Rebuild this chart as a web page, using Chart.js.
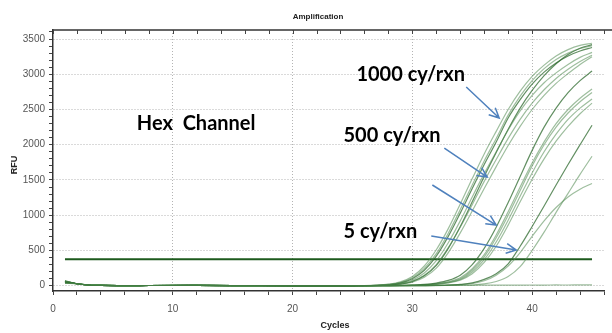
<!DOCTYPE html>
<html>
<head>
<meta charset="utf-8">
<script src="https://cdn.jsdelivr.net/npm/chart.js@4.4.1/dist/chart.umd.min.js"></script>
<style>
  body { margin: 0; background: #fff; }
  canvas { display: block; }
</style>
</head>
<body>
<canvas id="chart" width="612" height="333"></canvas>
<script>
// axis ticks that carry a label
const xTickLabels = [0, 10, 20, 30, 40];
const yTickLabels = [0, 500, 1000, 1500, 2000, 2500, 3000, 3500];

// flat start of every trace (cycle 1 differs per well, see start arrays)
const earlyCycles = [2, 3, 4, 6, 8, 12, 16, 20, 24];
const earlyRFU = [28, 10, 4, 2, 3, 4, 1, -3, -2];

// cycles where the curves take off
const lateCycles = [26, 27, 28, 29, 30, 31, 32, 33, 34, 35, 36, 37, 38, 39, 40, 41, 42, 43, 44, 45];

// 1000 cy/rxn wells
const start1000 = [72, 60, 55, 66, 48, 40, 58];
const wells1000 = [
    [2, 8, 22, 55, 130, 280, 510, 810, 1160, 1520, 1870, 2190, 2500, 2760, 2970, 3130, 3260, 3350, 3410, 3440],
    [1, 6, 18, 46, 112, 245, 455, 745, 1080, 1430, 1770, 2090, 2420, 2690, 2910, 3080, 3210, 3300, 3365, 3405],
    [0, 5, 15, 40, 100, 220, 420, 700, 1030, 1380, 1720, 2040, 2380, 2640, 2860, 3030, 3160, 3260, 3330, 3380],
    [0, 4, 12, 32, 80, 180, 355, 610, 920, 1260, 1590, 1900, 2210, 2480, 2700, 2880, 3020, 3140, 3240, 3310],
    [0, 3, 10, 26, 65, 150, 300, 540, 830, 1150, 1480, 1790, 2090, 2360, 2590, 2780, 2940, 3070, 3180, 3270],
    [0, 3, 9, 24, 60, 140, 290, 530, 840, 1190, 1550, 1890, 2220, 2520, 2770, 2980, 3150, 3280, 3370, 3420],
    [0, 2, 8, 20, 50, 120, 250, 470, 750, 1060, 1380, 1690, 1990, 2260, 2500, 2700, 2870, 3010, 3140, 3250]
];

// 500 cy/rxn wells
const start500 = [62, 70, 45, 52, 38];
const wells500 = [
    [0, 1, 2, 4, 9, 18, 38, 75, 150, 300, 530, 830, 1180, 1550, 1920, 2250, 2520, 2740, 2910, 3045],
    [0, 0, 1, 3, 7, 14, 28, 56, 112, 240, 440, 720, 1050, 1400, 1740, 2040, 2300, 2500, 2660, 2790],
    [0, 0, 1, 3, 6, 12, 25, 50, 100, 220, 410, 680, 1000, 1350, 1700, 2000, 2250, 2450, 2610, 2740],
    [0, 0, 1, 2, 5, 10, 22, 44, 88, 195, 370, 620, 930, 1270, 1600, 1900, 2150, 2360, 2520, 2650],
    [0, 0, 1, 2, 5, 10, 20, 40, 80, 170, 330, 560, 860, 1190, 1510, 1800, 2050, 2260, 2440, 2590]
];

// 5 cy/rxn wells
const start5 = [50, 65, 44];
const wells5 = [
    [0, 0, 0, 0, 1, 2, 4, 8, 18, 40, 90, 170, 310, 560, 840, 1130, 1430, 1720, 2000, 2276],
    [0, 0, 0, 0, 0, 1, 2, 4, 6, 10, 25, 60, 130, 270, 500, 760, 1040, 1310, 1580, 1837],
    [0, 0, 0, 0, 1, 2, 4, 8, 15, 30, 70, 150, 280, 470, 700, 920, 1110, 1260, 1370, 1450]
];

// well that never amplified
const startNeg = [35];
const wellsNeg = [
    [3, 2, 4, 3, 5, 4, 6, 5, 7, 6, 8, 7, 9, 8, 10, 9, 11, 10, 12, 12]
];

const thresholdRFU = 374;
const thresholdCycles = [1, 45];

// text labels and arrows on the plot (in cycles / RFU)
const notes = [
    { text: 'Hex  Channel', x: 7.0, y: 2294 },
    { text: '1000 cy/rxn', x: 25.33, y: 2989 },
    { text: '500 cy/rxn', x: 24.25, y: 2124 },
    { text: '5 cy/rxn', x: 24.25, y: 762 }
];
const arrows = [
    [34.5, 2819, 37.25, 2379],
    [32.67, 1953, 36.25, 1542],
    [31.67, 1429, 37.0, 861],
    [31.58, 705, 38.67, 506]
];

const light = 'rgba(78, 136, 78, 0.55)';
const dark = 'rgba(46, 106, 46, 0.75)';

function wellPoints(start, late) {
    const pts = [{ x: 1, y: start }];
    earlyCycles.forEach((c, i) => pts.push({ x: c, y: earlyRFU[i] }));
    lateCycles.forEach((c, i) => pts.push({ x: c, y: late[i] }));
    return pts;
}

const datasets = [];
function addGroup(starts, wells, darkOnes) {
    wells.forEach((w, i) => {
        datasets.push({
            data: wellPoints(starts[i], w),
            borderColor: darkOnes.includes(i) ? dark : light,
            borderWidth: 1.2,
            pointRadius: 0,
            cubicInterpolationMode: 'monotone'
        });
    });
}
addGroup(startNeg, wellsNeg, []);
addGroup(start5, wells5, [0]);
addGroup(start500, wells500, [0]);
addGroup(start1000, wells1000, [2, 5]);

// threshold line
datasets.push({
    data: thresholdCycles.map(c => ({ x: c, y: thresholdRFU })),
    borderColor: '#1d5a1d',
    borderWidth: 2,
    pointRadius: 0
});

// titles, top frame and the annotations
const extras = {
    id: 'extras',
    afterDraw(chart) {
        const ctx = chart.ctx;
        const xs = chart.scales.x;
        const ys = chart.scales.y;
        const area = chart.chartArea;
        ctx.save();

        // top frame line with small ticks
        ctx.strokeStyle = '#333';
        ctx.lineWidth = 1.5;
        ctx.beginPath();
        ctx.moveTo(area.left, area.top);
        ctx.lineTo(chart.width, area.top);
        ctx.stroke();
        ctx.lineWidth = 1;
        ctx.strokeStyle = '#444';
        for (let v = 0; v <= 46; v += 2) {
            const px = Math.round(xs.getPixelForValue(v)) + 0.5;
            ctx.beginPath();
            ctx.moveTo(px, area.top);
            ctx.lineTo(px, area.top + 4);
            ctx.stroke();
        }

        // chart and axis titles
        ctx.fillStyle = '#222';
        ctx.textAlign = 'center';
        ctx.textBaseline = 'middle';
        ctx.font = 'bold 8px "Liberation Sans"';
        ctx.fillText('Amplification', 318, 17);
        ctx.font = 'bold 9px "Liberation Sans"';
        ctx.fillText('Cycles', 335, 326);
        ctx.save();
        ctx.translate(15, 165);
        ctx.rotate(-Math.PI / 2);
        ctx.fillText('RFU', 0, 0);
        ctx.restore();

        // annotation text
        ctx.fillStyle = '#000';
        ctx.textAlign = 'left';
        ctx.font = 'bold 20px Lato';
        notes.forEach(n => {
            ctx.fillText(n.text, xs.getPixelForValue(n.x), ys.getPixelForValue(n.y));
        });

        // blue arrows
        ctx.strokeStyle = '#4f81bd';
        ctx.lineWidth = 1.5;
        arrows.forEach(a => {
            const x1 = xs.getPixelForValue(a[0]), y1 = ys.getPixelForValue(a[1]);
            const x2 = xs.getPixelForValue(a[2]), y2 = ys.getPixelForValue(a[3]);
            const ang = Math.atan2(y2 - y1, x2 - x1);
            ctx.beginPath();
            ctx.moveTo(x1, y1);
            ctx.lineTo(x2, y2);
            ctx.moveTo(x2 - 11 * Math.cos(ang - 0.45), y2 - 11 * Math.sin(ang - 0.45));
            ctx.lineTo(x2, y2);
            ctx.lineTo(x2 - 11 * Math.cos(ang + 0.45), y2 - 11 * Math.sin(ang + 0.45));
            ctx.stroke();
        });
        ctx.restore();
    }
};

const tickFont = { family: 'Liberation Sans', size: 10 };

new Chart(document.getElementById('chart'), {
    type: 'line',
    data: { datasets: datasets },
    options: {
        responsive: false,
        animation: false,
        devicePixelRatio: 1,
        layout: { padding: { top: 30, right: 7, left: 0, bottom: 0 } },
        plugins: { legend: { display: false }, tooltip: { enabled: false } },
        scales: {
            x: {
                type: 'linear',
                min: 0,
                max: 46,
                afterBuildTicks: s => {
                    const t = [];
                    for (let v = 0; v <= 46; v += 2) t.push({ value: v });
                    s.ticks = t;
                },
                afterFit: s => { s.height = 42; },
                ticks: {
                    autoSkip: false,
                    maxRotation: 0,
                    padding: 8,
                    color: '#555',
                    font: tickFont,
                    callback: v => xTickLabels.includes(v) ? String(v) : ''
                },
                grid: {
                    color: c => (c.tick && c.tick.value !== 0 && xTickLabels.includes(c.tick.value)) ? '#b4b4b4' : 'transparent',
                    tickColor: '#444',
                    tickLength: 4
                },
                border: { color: '#333', width: 1.5, dash: [1, 2] }
            },
            y: {
                min: -75,
                max: 3628,
                afterBuildTicks: s => {
                    const t = [];
                    for (let v = 0; v <= 3600; v += 100) t.push({ value: v });
                    s.ticks = t;
                },
                afterFit: s => { s.width = 53; },
                ticks: {
                    autoSkip: false,
                    padding: 4,
                    color: '#555',
                    font: tickFont,
                    callback: v => yTickLabels.includes(v) ? String(v) : ''
                },
                grid: {
                    color: c => (c.tick && yTickLabels.includes(c.tick.value)) ? '#b4b4b4' : 'transparent',
                    tickColor: '#444',
                    tickLength: 4
                },
                border: { color: '#333', width: 1.5, dash: [1, 2] }
            }
        }
    },
    plugins: [extras]
});
</script>
</body>
</html>
